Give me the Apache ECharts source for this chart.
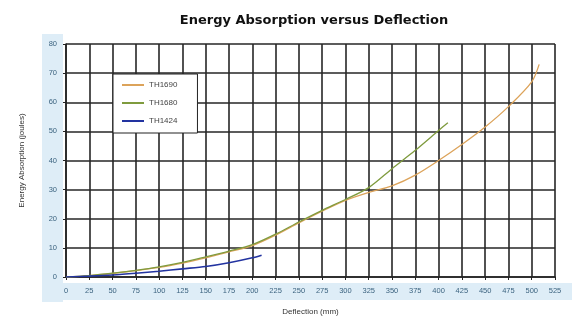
<!DOCTYPE html>
<html>
<head>
<meta charset="utf-8">
<script src="https://cdn.jsdelivr.net/npm/echarts@6/dist/echarts.min.js"></script>
<style>html,body{margin:0;padding:0;background:#fff;}#c{width:578px;height:321px;}</style>
</head>
<body>
<div id="c"></div>
<script>
const titleText = 'Energy Absorption versus Deflection';
const xTicks = { min: 0, max: 525, interval: 25 };
const yTicks = { min: 0, max: 80, interval: 10 };

const seriesNames = ['TH1690', 'TH1680', 'TH1424'];

const th1690X = [0, 25, 50, 75, 100, 125, 150, 175, 200, 225, 250, 275, 300, 325, 350, 375, 400, 425, 450, 475, 500, 508];
const th1690Y = [0, 0.5, 1.2, 2.2, 3.3, 4.8, 6.6, 8.6, 10.8, 14.4, 18.6, 22.6, 26.3, 29.0, 31.3, 35.0, 40.0, 45.5, 51.5, 58.5, 67.0, 73.0];

const th1680X = [0, 25, 50, 75, 100, 125, 150, 175, 200, 225, 250, 275, 300, 325, 350, 375, 400, 410];
const th1680Y = [0, 0.5, 1.3, 2.3, 3.5, 5.0, 6.9, 8.9, 11.1, 14.7, 18.9, 22.9, 26.6, 30.7, 37.2, 43.5, 50.3, 53.0];

const th1424X = [0, 25, 50, 75, 100, 125, 150, 175, 200, 210];
const th1424Y = [0, 0.3, 0.7, 1.3, 2.0, 2.8, 3.6, 4.9, 6.6, 7.5];

const colors = ['#dca35a', '#7f9b3e', '#2233a0'];

function pairs(xs, ys) { return xs.map((x, i) => [x, ys[i]]); }

const chart = echarts.init(document.getElementById('c'), null, { renderer: 'canvas' });
const labelStyle = { color: '#3d6480', fontSize: 7.5, fontFamily: 'Liberation Sans' };
chart.setOption({
  animation: false,
  backgroundColor: '#ffffff',
  graphic: [
    { type: 'rect', shape: { x: 42, y: 34, width: 21, height: 268 }, style: { fill: '#deedf7' }, z: -1 },
    { type: 'rect', shape: { x: 42, y: 283, width: 530, height: 17 }, style: { fill: '#deedf7' }, z: -1 },
    { type: 'text', x: 314, y: 21, style: { text: titleText, align: 'center', verticalAlign: 'middle', font: 'bold 13px "DejaVu Sans"', fill: '#111' }, z: 10 }
  ],
  grid: { left: 66, right: 23, top: 44, bottom: 44 },
  legend: {
    data: seriesNames,
    orient: 'vertical',
    left: 113, top: 74,
    icon: 'rect', itemWidth: 22, itemHeight: 2, itemGap: 10,
    backgroundColor: '#ffffff', borderColor: '#222', borderWidth: 1,
    padding: [7, 20, 8, 9],
    textStyle: { fontSize: 8, color: '#444', fontFamily: 'Liberation Sans' }
  },
  xAxis: {
    type: 'value', min: xTicks.min, max: xTicks.max, interval: xTicks.interval,
    name: 'Deflection (mm)', nameLocation: 'middle', nameGap: 31,
    nameTextStyle: { fontSize: 8, color: '#333', fontFamily: 'Liberation Sans' },
    axisLine: { show: true, lineStyle: { color: '#222', width: 1.5 } },
    axisTick: { show: true, length: 3, lineStyle: { color: '#222' } },
    axisLabel: Object.assign({ margin: 10 }, labelStyle),
    splitLine: { show: true, lineStyle: { color: '#262626', width: 1.6 } }
  },
  yAxis: {
    type: 'value', min: yTicks.min, max: yTicks.max, interval: yTicks.interval,
    name: 'Energy Absorption (joules)', nameLocation: 'middle', nameGap: 40,
    nameTextStyle: { fontSize: 8, color: '#333', fontFamily: 'Liberation Sans' },
    axisLine: { show: true, lineStyle: { color: '#222', width: 1.5 } },
    axisTick: { show: true, length: 3, lineStyle: { color: '#222' } },
    axisLabel: Object.assign({ margin: 9 }, labelStyle),
    splitLine: { show: true, lineStyle: { color: '#262626', width: 1.6 } }
  },
  series: [
    { name: seriesNames[0], type: 'line', data: pairs(th1690X, th1690Y), smooth: 0.3, showSymbol: false, lineStyle: { width: 1.3, color: colors[0] }, itemStyle: { color: colors[0] }, z: 3 },
    { name: seriesNames[1], type: 'line', data: pairs(th1680X, th1680Y), smooth: 0.3, showSymbol: false, lineStyle: { width: 1.3, color: colors[1] }, itemStyle: { color: colors[1] }, z: 3 },
    { name: seriesNames[2], type: 'line', data: pairs(th1424X, th1424Y), smooth: 0.3, showSymbol: false, lineStyle: { width: 1.6, color: colors[2] }, itemStyle: { color: colors[2] }, z: 4 }
  ]
});
</script>
</body>
</html>
